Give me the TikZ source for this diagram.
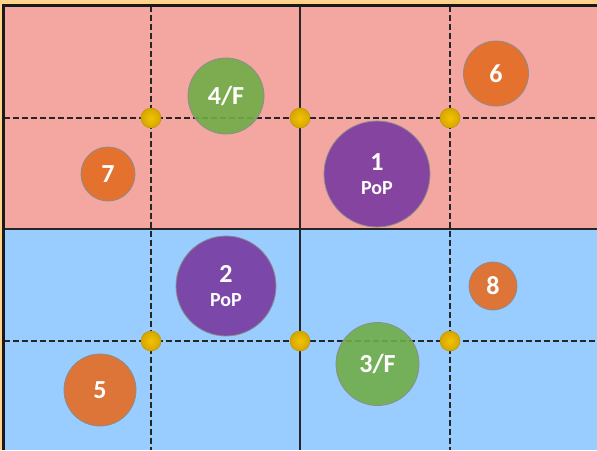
\documentclass[tikz,border=0pt]{standalone}
\usepackage{fontspec}
\setmainfont{Carlito}
\definecolor{framebg}{HTML}{FFD389}
\definecolor{zonepink}{HTML}{F4A6A0}
\definecolor{zoneblue}{HTML}{99CCFF}
\definecolor{podgreen}{HTML}{70AD47}
\definecolor{podorange}{HTML}{E46C22}
\definecolor{podpurple}{HTML}{783AA0}
\definecolor{dotgold}{HTML}{F2BC00}
\begin{document}
\begin{tikzpicture}[x=1pt, y=-1pt,
    gridsolid/.style={line width=2pt, black!85},
    griddash/.style={line width=2pt, black!85, dash pattern=on 6pt off 3pt},
    site/.style={circle, draw=black!45, line width=0.8pt, fill opacity=0.9, text opacity=1,
      text=white, font=\fontsize{26}{27}\selectfont\bfseries, inner sep=0pt, align=center},
    hubdot/.style={circle, minimum size=20pt, inner sep=0pt, draw=dotgold!80!black, line width=0.5pt,
      inner color=dotgold!90!yellow, outer color=dotgold!88!black}]
  % 1. page and the two zones
  \useasboundingbox (0,0) rectangle (597,450);
  \fill[framebg] (0,0) rectangle (597,450);
  \fill[zonepink] (3.5,5.5) rectangle (597,229);
  \fill[zoneblue] (3.5,229) rectangle (597,450);

  % 2. grid lines
  \foreach \gx in {151,450} \draw[griddash] (\gx,5.5) -- (\gx,450);
  \foreach \gy in {118,341} \draw[griddash] (3.5,\gy) -- (597,\gy);
  \draw[gridsolid] (300,5.5) -- (300,450);
  \draw[gridsolid] (3.5,229) -- (597,229);
  \draw[line width=3pt, black!90] (3.5,450) -- (3.5,5.5) -- (597,5.5);

  % 3. sites
  \node[site, fill=podgreen, minimum size=76pt] (s4) at (226,96) {4/F};
  \node[site, fill=podorange, minimum size=54pt] (s7) at (108,174) {7};
  \node[site, fill=podorange, minimum size=65pt] (s6) at (496,73.5) {6};
  \node[site, fill=podpurple, minimum size=106pt] (s1) at (377,174)
    {1\\[-3pt]{\fontsize{20}{21}\selectfont\bfseries PoP}};
  \node[site, fill=podpurple, minimum size=100pt] (s2) at (226,286)
    {2\\[-3pt]{\fontsize{20}{21}\selectfont\bfseries PoP}};
  \node[site, fill=podorange, minimum size=48pt] (s8) at (493,286) {8};
  \node[site, fill=podorange, minimum size=72pt] (s5) at (100,390) {5};
  \node[site, fill=podgreen, minimum size=83pt] (s3) at (377.5,364) {3/F};

  % 4. crossing points
  \foreach \gy [count=\r] in {118,341}
    \foreach \gx [count=\c] in {151,300,450}
      \node[hubdot] (x\r\c) at (\gx,\gy) {};
\end{tikzpicture}
\end{document}
